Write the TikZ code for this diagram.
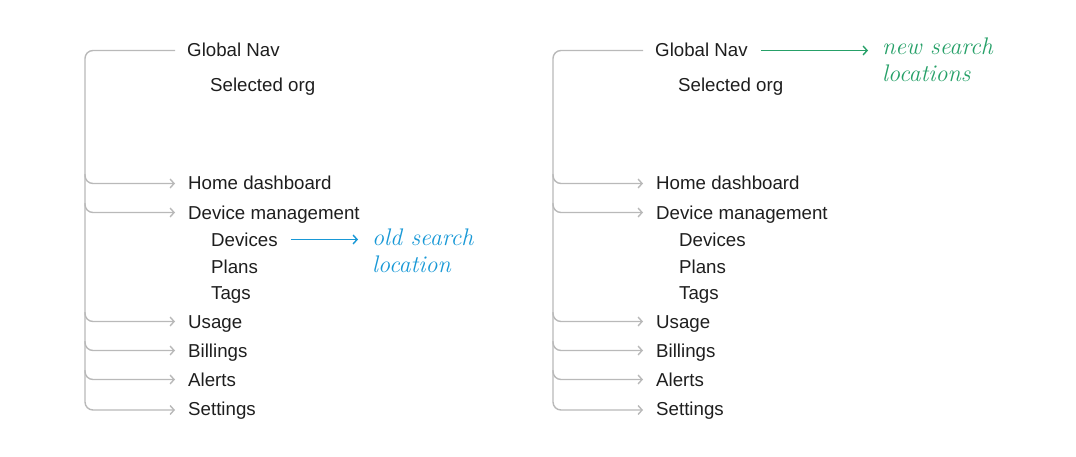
\documentclass[tikz,border=0pt]{standalone}
\usepackage{fontspec}
\setmainfont{Liberation Sans}
\usetikzlibrary{arrows.meta}
\definecolor{ink}{RGB}{30,30,30}
\definecolor{treegray}{RGB}{185,185,185}
\definecolor{oldblue}{RGB}{24,152,214}
\definecolor{newgreen}{RGB}{38,160,104}
\newcommand{\menufont}{\fontsize{18.7}{22}\selectfont}
\newcommand{\notefont}{\fontspec{Latin Modern Roman}\itshape\fontsize{24}{27}\selectfont}
\begin{document}
\begin{tikzpicture}[x=1pt,y=-1pt]
	\tikzstyle{item} =[anchor=base west, inner sep=0pt, font=\menufont, text=ink];
	\tikzstyle{branch} =[draw=treegray, line width=1.4pt, rounded corners=8pt, -{Straight Barb[length=4pt,width=9pt]}];
	\tikzstyle{note} =[anchor=base west, inner sep=0pt, align=left, font=\notefont];
	\tikzstyle{notearrow} =[line width=1.4pt, -{Straight Barb[length=4pt,width=9pt]}];
	\useasboundingbox (0,0) rectangle (1076,457);
	
	\foreach \s/\dx in {l/0, r/468} {
		\begin{scope}[xshift=\dx]
			\coordinate (\s-spine) at (85,50);
			\node[item] (\s-gnav) at (187,57) {Global Nav};
			\node[item] (\s-selorg) at (210,92) {Selected org};
			\node[item] (\s-home) at (188,190) {Home dashboard};
			\node[item] (\s-devmgmt) at (188,219) {Device management};
			\node[item] (\s-devices) at (211,246) {Devices};
			\node[item] (\s-plans) at (211,273) {Plans};
			\node[item] (\s-tags) at (211,299) {Tags};
			\node[item] (\s-usage) at (188,328) {Usage};
			\node[item] (\s-billings) at (188,357) {Billings};
			\node[item] (\s-alerts) at (188,386) {Alerts};
			\node[item] (\s-settings) at (188,415) {Settings};
			
			% spine from Global Nav down to Settings
			\draw[branch] ([xshift=-12pt,yshift=6.5pt]\s-gnav.base west) -| ([yshift=5pt]\s-spine |- \s-settings.base west) -- ([xshift=-13pt,yshift=5pt]\s-settings.base west);
			\foreach \n in {home,devmgmt,usage,billings,alerts}
				\draw[branch] ([yshift=16pt]\s-spine |- \s-\n.base west) |- ([xshift=-13pt,yshift=6.5pt]\s-\n.base west);
		\end{scope}
	}
	
	\node[note, text=oldblue] (l-old) at (372,272) {old search\\location};
	\coordinate (l-from) at ([xshift=13pt,yshift=6.5pt]l-devices.base east);
	\draw[notearrow, oldblue] (l-from) -- ([xshift=-14pt]l-old.west |- l-from);
	
	\node[note, text=newgreen] (r-new) at (882,82) {new search\\locations};
	\coordinate (r-from) at ([xshift=13pt,yshift=6.5pt]r-gnav.base east);
	\draw[notearrow, newgreen] (r-from) -- ([xshift=-14pt]r-new.west |- r-from);
\end{tikzpicture}
\end{document}
